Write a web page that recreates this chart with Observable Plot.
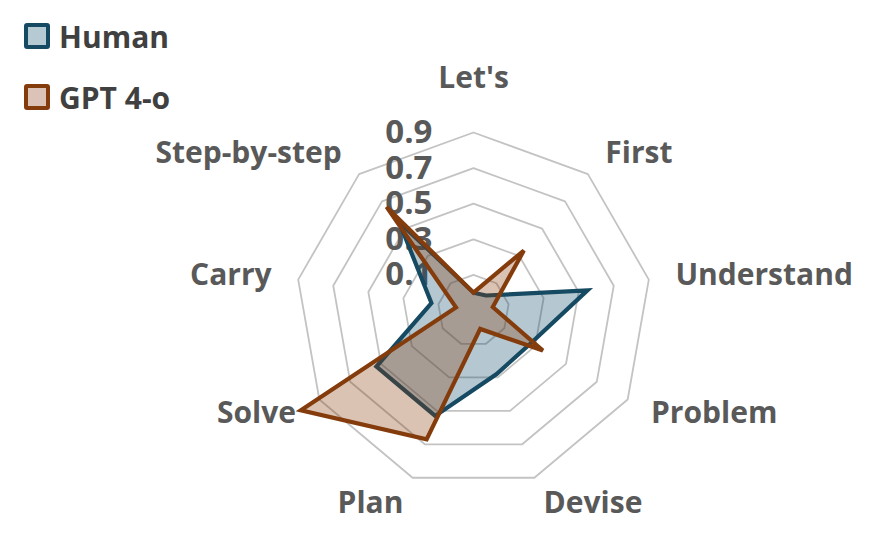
<!DOCTYPE html>
<html>
<head>
<meta charset="utf-8">
<script src="https://cdn.jsdelivr.net/npm/d3@7"></script>
<script src="https://cdn.jsdelivr.net/npm/@observablehq/plot@0.6"></script>
<style>
  html, body { margin: 0; padding: 0; background: #fff; }
  #wrap { position: relative; width: 870px; height: 552px; font-family: "Open Sans", Roboto, sans-serif; }
  #legend { position: absolute; left: 24px; top: 20px; }
  .item { display: flex; align-items: center; height: 32px; margin-bottom: 29px; font-weight: bold; font-size: 30px; color: #404040; }
  .sw { width: 18px; height: 18px; border-radius: 3px; margin-right: 9px; box-sizing: content-box; }
</style>
</head>
<body>
<div id="wrap"><div id="legend"></div></div>
<script>
const categories = ["Let's", "First", "Understand", "Problem", "Devise", "Plan", "Solve", "Carry", "Step-by-step"];
const human = [0.0, 0.01, 0.55, 0.27, 0.28, 0.53, 0.53, 0.14, 0.55];
const gpt = [0.0, 0.34, 0.01, 0.35, 0.01, 0.67, 1.02, 0.0, 0.66];
const seriesNames = ["Human", "GPT 4-o"];
const tickValues = [0.1, 0.3, 0.5, 0.7, 0.9];
const axisMin = -0.1;

const strokes = ["#164a62", "#843c0c"];
const fills = ["#0a4a6a", "#873708"];

const n = categories.length;
const ang = i => (i * 2 * Math.PI) / n;
const pt = (v, i) => ({ x: (v - axisMin) * Math.sin(ang(i)), y: (v - axisMin) * Math.cos(ang(i)) });

const rings = tickValues.flatMap(t => categories.map((c, i) => ({ ring: t, ...pt(t, i) })));
const series = [human, gpt].map((vals, s) => vals.map((v, i) => ({ name: seriesNames[s], ...pt(v, i) })));
const labelR = 0.9 - axisMin + 27 / 178;
const labels = categories.map((c, i) => {
  const a = ang(i);
  const s = Math.sin(a);
  return {
    label: c,
    x: labelR * s,
    y: labelR * Math.cos(a),
    anchor: Math.abs(s) < 0.05 ? "middle" : s > 0 ? "start" : "end",
    top: i === 0
  };
});
const tickData = tickValues.map(t => ({ t, x: 0, y: t - axisMin }));

const px = 178, cx = 473, cy = 310, W = 870, H = 552;
const font = "'Open Sans', Roboto, sans-serif";

const chart = Plot.plot({
  width: W,
  height: H,
  margin: 0,
  x: { domain: [-cx / px, (W - cx) / px], range: [0, W], axis: null },
  y: { domain: [-(H - cy) / px, cy / px], range: [H, 0], axis: null },
  style: { fontFamily: font, background: "white" },
  marks: [
    Plot.line(rings, { x: "x", y: "y", z: "ring", curve: "linear-closed", stroke: "#c3c3c3", strokeWidth: 1.8 }),
    Plot.text(tickData, { x: "x", y: "y", text: d => d.t.toFixed(1), textAnchor: "end", dx: -41, fontSize: 33, fontWeight: "bold", fill: "#595959" }),
    ...series.map((data, s) =>
      Plot.line(data, { x: "x", y: "y", curve: "linear-closed", fill: fills[s], fillOpacity: 0.3, stroke: strokes[s], strokeWidth: 4.2, strokeLinejoin: "miter", strokeMiterlimit: 4 })
    ),
    Plot.text(labels.filter(d => !d.top && d.anchor === "start"), { x: "x", y: "y", text: "label", textAnchor: "start", fontSize: 30, fontWeight: "bold", fill: "#595959" }),
    Plot.text(labels.filter(d => !d.top && d.anchor === "end"), { x: "x", y: "y", text: "label", textAnchor: "end", fontSize: 30, fontWeight: "bold", fill: "#595959" }),
    Plot.text(labels.filter(d => d.top), { x: "x", y: "y", text: "label", textAnchor: "middle", dy: -27, fontSize: 30, fontWeight: "bold", fill: "#595959" })
  ]
});
document.getElementById("wrap").prepend(chart);

const legend = document.getElementById("legend");
seriesNames.forEach((name, s) => {
  const item = document.createElement("div");
  item.className = "item";
  const sw = document.createElement("div");
  sw.className = "sw";
  sw.style.border = `4px solid ${strokes[s]}`;
  sw.style.background = s === 0 ? "#b6cad4" : "#dbc4b7";
  const tx = document.createElement("span");
  tx.textContent = name;
  item.appendChild(sw);
  item.appendChild(tx);
  legend.appendChild(item);
});
</script>
</body>
</html>
